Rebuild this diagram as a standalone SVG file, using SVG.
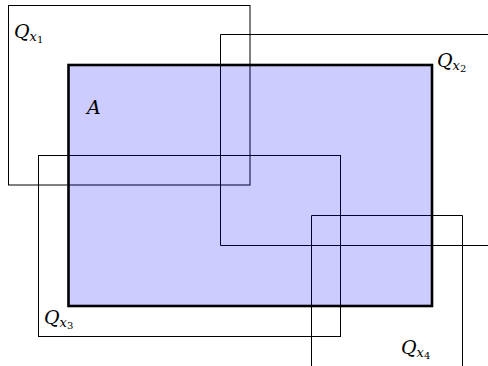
<svg xmlns="http://www.w3.org/2000/svg" width="488" height="366" viewBox="0 0 488 366">
  <style>
    .box { fill: none; stroke: #000; stroke-width: 1; }
    .region { fill: #0000ff; fill-opacity: 0.2; }
    .edge { fill: none; stroke: #000; stroke-width: 2.6; }
    .lbl { font-family: "DejaVu Serif", "Liberation Serif", serif; font-style: italic; font-size: 19px; fill: #000; }
    .sub { font-size: 13px; }
    .idx { font-style: normal; font-size: 10px; }
  </style>
  <rect width="488" height="366" fill="#fff"/>
  <g id="connectors"/>
  <g id="Qx1">
    <rect class="box" x="8.5" y="5.5" width="241.5" height="179.5"/>
  </g>
  <g id="Qx2">
    <path class="box" d="M490 34.5 H220.5 V245.5 H490"/>
  </g>
  <g id="Qx3">
    <rect class="box" x="38.5" y="155.5" width="302" height="181"/>
  </g>
  <g id="Qx4">
    <path class="box" d="M311.5 370 V215.5 H462.5 V370"/>
  </g>
  <g id="A">
    <rect class="region" x="68.5" y="65" width="363.5" height="241"/>
    <rect class="edge" x="68.5" y="65" width="363.5" height="241"/>
    <text class="lbl" x="87" y="114" font-size="17">A</text>
  </g>
  <g id="labels">
    <text class="lbl" x="14" y="38">Q<tspan class="sub" dy="3">x</tspan><tspan class="idx" dy="2">1</tspan></text>
    <text class="lbl" x="437" y="67">Q<tspan class="sub" dy="3">x</tspan><tspan class="idx" dy="2">2</tspan></text>
    <text class="lbl" x="44" y="324">Q<tspan class="sub" dy="3">x</tspan><tspan class="idx" dy="2">3</tspan></text>
    <text class="lbl" x="401" y="354">Q<tspan class="sub" dy="3">x</tspan><tspan class="idx" dy="2">4</tspan></text>
  </g>
</svg>
